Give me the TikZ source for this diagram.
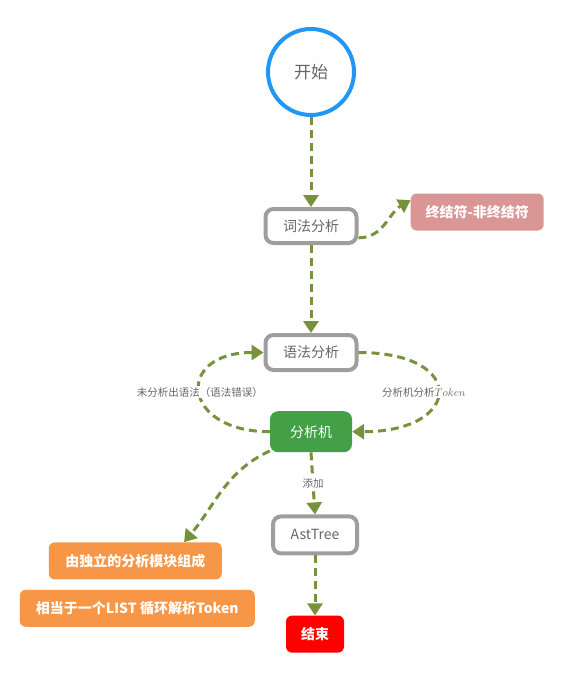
\documentclass[tikz,border=0pt]{standalone}
\usepackage{fontspec}
\setmainfont{Noto Sans CJK SC}
\usepackage{tikz}
\usetikzlibrary{positioning,arrows.meta}
\definecolor{startblue}{RGB}{33,150,243}
\definecolor{boxgray}{RGB}{158,158,158}
\definecolor{textgray}{RGB}{102,102,102}
\definecolor{termpink}{RGB}{218,150,148}
\definecolor{machgreen}{RGB}{67,160,71}
\definecolor{noteorange}{RGB}{247,150,70}
\definecolor{endred}{RGB}{255,0,0}
\definecolor{flowgreen}{RGB}{118,146,60}
\begin{document}
\begin{tikzpicture}[
  x=1pt, y=1pt,
  stepnode/.style={draw=boxgray, line width=4pt, rounded corners=8pt, fill=white,
    text=textgray, font=\fontsize{14}{16}\selectfont, inner sep=0pt,
    minimum width=91pt, minimum height=34pt},
  fillnode/.style={rounded corners=6pt, text=white, inner sep=0pt,
    font=\fontsize{14}{16}\selectfont\bfseries, minimum height=37pt},
  flow/.style={draw=flowgreen, line width=3pt, dash pattern=on 8pt off 5pt,
    -{Triangle[width=15pt,length=12pt]}},
  flowlabel/.style={fill=white, text=textgray, inner sep=1pt,
    font=\fontsize{10.5}{12}\selectfont},
]
\useasboundingbox (0,0) rectangle (588,-685);
\node[circle, draw=startblue, line width=4pt, minimum size=86pt, text=textgray,
  font=\fontsize{17}{19}\selectfont] (start) at (311,-72) {开始};
\node[stepnode, below=90pt of start] (lex) {词法分析};
\node[fillnode, fill=termpink, minimum width=133pt, right=52pt of lex, yshift=14pt] (term) {终结符-非终结符};
\node[stepnode, minimum height=35pt, below=88pt of lex] (syn) {语法分析};
\node[fillnode, fill=machgreen, minimum width=82pt, minimum height=41pt,
  rounded corners=8pt, font=\fontsize{14}{16}\selectfont, below=39pt of syn] (machine) {分析机};
\node[stepnode, minimum width=84pt, minimum height=37pt, below=62pt of machine, xshift=4pt] (ast) {AstTree};
\node[fillnode, fill=endred, minimum width=58pt, below=60pt of ast] (end) {结束};
\node[fillnode, fill=noteorange, minimum width=173pt, left=49pt of ast, yshift=-26pt] (part) {由独立的分析模块组成};
\node[fillnode, fill=noteorange, minimum width=235pt, below=10pt of part, xshift=2pt] (loop) {相当于一个LIST 循环解析Token};

\draw[flow] (start) -- (lex);
\draw[flow] (lex.-14) to[out=0, in=210] (term.170);
\draw[flow] (lex) -- (syn);
\draw[flow] (syn.east) .. controls +(110,0) and +(110,0) .. (machine.east)
  node[flowlabel, pos=0.5, xshift=-14pt] (tokenlabel) {分析机分析$Token$};
\draw[flow] (machine.west) .. controls +(-89,0) and +(-89,0) .. (syn.west)
  node[flowlabel, pos=0.5] (errlabel) {未分析出语法（语法错误）};
\draw[flow] (machine.south) -- (ast.north) node[flowlabel, midway] (addlabel) {添加};
\draw[flow] (machine.205) to[out=205, in=50] (part.21);
\draw[flow] (ast) -- (end);
\end{tikzpicture}
\end{document}
